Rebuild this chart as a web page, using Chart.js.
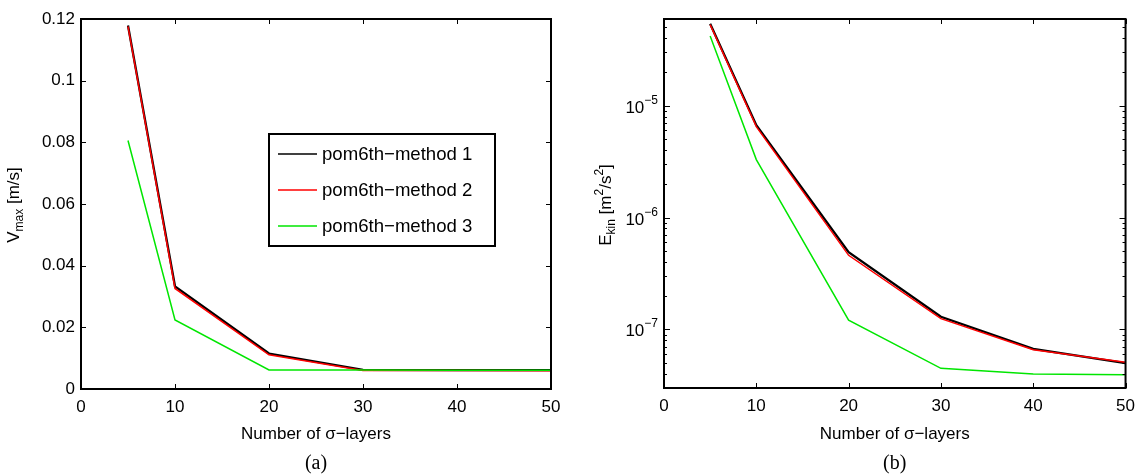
<!DOCTYPE html>
<html>
<head>
<meta charset="utf-8">
<script src="https://cdn.jsdelivr.net/npm/chart.js@4.4.1/dist/chart.umd.min.js"></script>
<style>
html, body { margin: 0; padding: 0; background: #fff; }
#wrap { position: relative; width: 1143px; height: 476px; }
canvas { position: absolute; top: 0; }
</style>
</head>
<body>
<div id="wrap">
  <canvas id="chartA" width="572" height="476" style="left:0"></canvas>
  <canvas id="chartB" width="571" height="476" style="left:572px"></canvas>
</div>
<script>
// data
const layers = [5, 10, 20, 30, 40, 50];
const seriesNames = ['pom6th\u2212method 1', 'pom6th\u2212method 2', 'pom6th\u2212method 3'];
const seriesColors = ['#000000', '#ff0000', '#00e600'];
const seriesWidths = [2.3, 1.5, 1.5];

const vmax1 = [0.1179, 0.0333, 0.0115, 0.0062, 0.0061, 0.0061];
const vmax2 = [0.1176, 0.0326, 0.0111, 0.0060, 0.0060, 0.0059];
const vmax3 = [0.0806, 0.0224, 0.0062, 0.0062, 0.0061, 0.0061];

const ekin1 = [5.4e-5, 6.7e-6, 4.9e-7, 1.30e-7, 6.7e-8, 5.0e-8];
const ekin2 = [5.3e-5, 6.5e-6, 4.6e-7, 1.25e-7, 6.6e-8, 5.1e-8];
const ekin3 = [4.2e-5, 3.3e-6, 1.21e-7, 4.5e-8, 4.0e-8, 3.95e-8];

const xTicks = [0, 10, 20, 30, 40, 50];
const vTicks = [0, 0.02, 0.04, 0.06, 0.08, 0.1, 0.12];
const eTicks = [1e-5, 1e-6, 1e-7];
const eTickExp = ['\u22125', '\u22126', '\u22127'];

const SANS = "'Liberation Sans', Arial, Helvetica, sans-serif";
const SERIF = "'Liberation Serif', 'Times New Roman', serif";

function makeDatasets(arrs) {
    return arrs.map((arr, i) => ({
        label: seriesNames[i],
        data: layers.map((x, j) => ({ x: x, y: arr[j] })),
        borderColor: seriesColors[i],
        borderWidth: seriesWidths[i],
        pointRadius: 0,
        tension: 0,
        fill: false,
        order: 3 - i
    }));
}

function seg(ctx, x1, y1, x2, y2) {
    ctx.beginPath();
    ctx.moveTo(x1, y1);
    ctx.lineTo(x2, y2);
    ctx.stroke();
}

// text made of pieces: {t, size, dy}
function richText(ctx, parts, cx, cy, rotate) {
    ctx.save();
    ctx.translate(cx, cy);
    if (rotate) ctx.rotate(-Math.PI / 2);
    ctx.textBaseline = 'alphabetic';
    ctx.textAlign = 'left';
    let total = 0;
    parts.forEach(p => { ctx.font = p.size + 'px ' + SANS; total += ctx.measureText(p.t).width; });
    let x = -total / 2;
    parts.forEach(p => {
        ctx.font = p.size + 'px ' + SANS;
        ctx.fillText(p.t, x, 6 + (p.dy || 0));
        x += ctx.measureText(p.t).width;
    });
    ctx.restore();
}

function drawFrame(chart, isLog) {
    const { ctx, chartArea: a, scales } = chart;
    ctx.save();
    ctx.strokeStyle = '#000';
    ctx.lineWidth = 2;
    ctx.strokeRect(a.left, a.top, a.right - a.left, a.bottom - a.top);
    ctx.lineWidth = 1;
    xTicks.forEach(v => {
        const px = Math.round(scales.x.getPixelForValue(v)) + 0.5;
        seg(ctx, px, a.bottom, px, a.bottom - 5);
        seg(ctx, px, a.top, px, a.top + 5);
    });
    if (!isLog) {
        vTicks.forEach(v => {
            const py = Math.round(scales.y.getPixelForValue(v)) + 0.5;
            seg(ctx, a.left, py, a.left + 5, py);
            seg(ctx, a.right, py, a.right - 5, py);
        });
    } else {
        const ys = scales.y;
        for (let n = -8; n <= -5; n++) {
            for (let k = 1; k <= 9; k++) {
                const v = k * Math.pow(10, n);
                if (v < ys.min || v > ys.max) continue;
                const len = k === 1 ? 6 : 3;
                const py = Math.round(ys.getPixelForValue(v)) + 0.5;
                seg(ctx, a.left, py, a.left + len, py);
                seg(ctx, a.right, py, a.right - len, py);
            }
        }
        // power-of-ten labels
        ctx.fillStyle = '#000';
        ctx.textBaseline = 'alphabetic';
        ctx.textAlign = 'right';
        eTicks.forEach((v, i) => {
            const py = ys.getPixelForValue(v);
            ctx.font = '12px ' + SANS;
            const ex = a.left - 6;
            ctx.fillText(eTickExp[i], ex, py - 2);
            const w = ctx.measureText(eTickExp[i]).width;
            ctx.font = '17px ' + SANS;
            ctx.fillText('10', ex - w, py + 7);
        });
    }
    ctx.restore();
}

function drawLegend(chart) {
    const ctx = chart.ctx;
    const box = { x: 269, y: 134, w: 226, h: 112 };
    const rows = [154, 190, 226];
    ctx.save();
    ctx.fillStyle = '#fff';
    ctx.fillRect(box.x, box.y, box.w, box.h);
    ctx.strokeStyle = '#000';
    ctx.lineWidth = 2;
    ctx.strokeRect(box.x, box.y, box.w, box.h);
    chart.data.datasets.forEach((ds, i) => {
        ctx.strokeStyle = ds.borderColor;
        ctx.lineWidth = 1.5;
        seg(ctx, 278, rows[i], 317, rows[i]);
        ctx.fillStyle = '#000';
        ctx.font = '18.6px ' + SANS;
        ctx.textAlign = 'left';
        ctx.textBaseline = 'middle';
        ctx.fillText(ds.label, 322, rows[i] + 1);
    });
    ctx.restore();
}

function drawCaption(chart, letter) {
    const { ctx, chartArea: a } = chart;
    const cx = (a.left + a.right) / 2;
    ctx.save();
    ctx.fillStyle = '#000';
    ctx.textAlign = 'center';
    ctx.textBaseline = 'middle';
    ctx.font = '17px ' + SANS;
    ctx.fillText('Number of \u03c3\u2212layers', cx, 434);
    ctx.font = '20px ' + SERIF;
    ctx.fillText('(' + letter + ')', cx, 464);
    ctx.restore();
}

const framePluginA = {
    id: 'frameA',
    afterDraw(chart) {
        drawFrame(chart, false);
        drawLegend(chart);
        drawCaption(chart, 'a');
        chart.ctx.fillStyle = '#000';
        richText(chart.ctx, [
            { t: 'V', size: 17 },
            { t: 'max', size: 12, dy: 4 },
            { t: ' [m/s]', size: 17 }
        ], 13, 205, true);
    }
};

const framePluginB = {
    id: 'frameB',
    afterDraw(chart) {
        drawFrame(chart, true);
        drawCaption(chart, 'b');
        chart.ctx.fillStyle = '#000';
        richText(chart.ctx, [
            { t: 'E', size: 17 },
            { t: 'kin', size: 12, dy: 4 },
            { t: ' [m', size: 17 },
            { t: '2', size: 12, dy: -8 },
            { t: '/s', size: 17 },
            { t: '2', size: 12, dy: -8 },
            { t: ']', size: 17 }
        ], 33, 205, true);
    }
};

function xScale(h) {
    return {
        type: 'linear',
        min: 0,
        max: 50,
        grid: { display: false, drawTicks: false },
        border: { display: false },
        ticks: {
            stepSize: 10,
            padding: 8,
            color: '#000',
            font: { family: SANS, size: 17 },
            maxRotation: 0
        },
        afterFit(scale) { scale.height = h; }
    };
}

new Chart(document.getElementById('chartA'), {
    type: 'line',
    data: { datasets: makeDatasets([vmax1, vmax2, vmax3]) },
    options: {
        responsive: false,
        animation: false,
        layout: { padding: { left: 0, right: 21, top: 19, bottom: 0 } },
        plugins: { legend: { display: false }, tooltip: { enabled: false } },
        scales: {
            x: xScale(87),
            y: {
                type: 'linear',
                min: 0,
                max: 0.12,
                grid: { display: false, drawTicks: false },
                border: { display: false },
                ticks: {
                    stepSize: 0.02,
                    padding: 6,
                    color: '#000',
                    font: { family: SANS, size: 17 },
                    callback: v => String(+v.toFixed(2))
                },
                afterFit(scale) { scale.width = 81; }
            }
        }
    },
    plugins: [framePluginA]
});

new Chart(document.getElementById('chartB'), {
    type: 'line',
    data: { datasets: makeDatasets([ekin1, ekin2, ekin3]) },
    options: {
        responsive: false,
        animation: false,
        layout: { padding: { left: 0, right: 11, top: 19, bottom: 0 } },
        plugins: { legend: { display: false }, tooltip: { enabled: false } },
        scales: {
            x: xScale(88),
            y: {
                type: 'logarithmic',
                min: 3.0e-8,
                max: 5.95e-5,
                grid: { display: false, drawTicks: false },
                border: { display: false },
                ticks: { display: false },
                afterFit(scale) { scale.width = 92; }
            }
        }
    },
    plugins: [framePluginB]
});
</script>
</body>
</html>
